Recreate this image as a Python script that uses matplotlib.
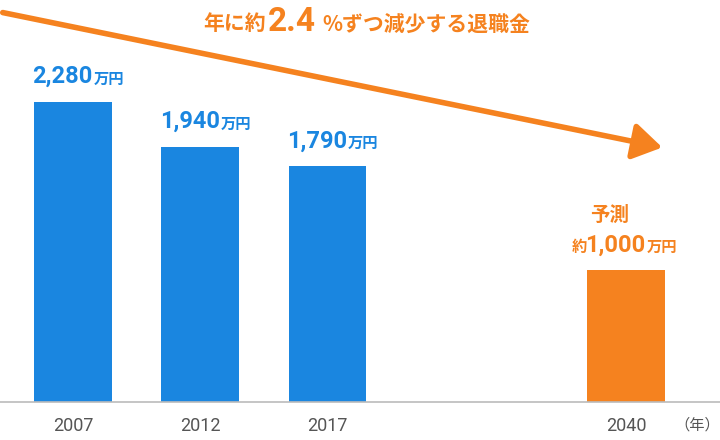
import matplotlib
matplotlib.use("Agg")
import matplotlib.pyplot as plt

plt.rcParams['font.family'] = ['Noto Sans CJK JP', 'DejaVu Sans']
NUM = ['Roboto', 'DejaVu Sans']

years = ["2007", "2012", "2017", "2040"]
values = [2280, 1940, 1790, 1000]
labels = ["2,280", "1,940", "1,790", "1,000"]
positions = [0, 1, 2, 4.35]
colors = ["#1a86e0", "#1a86e0", "#1a86e0", "#f5821f"]

fig = plt.figure(figsize=(7.2, 4.4), dpi=100)
ax = fig.add_axes([0, 38/440, 1, 1 - 38/440])
ax.set_xlim(-0.575, 5.09)
ax.set_ylim(0, 3055)
ax.axis("off")

ax.bar(positions, values, width=0.61, color=colors)

for p, v, lab, c in zip(positions, values, labels, colors):
    ax.annotate(lab, (p, v), xytext=(14, 10), textcoords="offset points",
                ha="right", va="bottom", fontsize=17, fontweight="bold", color=c, family=NUM)
    ax.annotate("万円", (p, v), xytext=(15, 11), textcoords="offset points",
                ha="left", va="bottom", fontsize=11, fontweight="bold", color=c)
ax.annotate("約", (positions[3], values[3]), xytext=(-28, 11), textcoords="offset points",
            ha="right", va="bottom", fontsize=11, fontweight="bold", color=colors[3])
ax.annotate("予測", (positions[3], values[3]), xytext=(-12, 33), textcoords="offset points",
            ha="center", va="bottom", fontsize=14, fontweight="bold", color=colors[3])

fig.add_artist(plt.Line2D([0, 1], [38/440, 38/440], color="#bbbbbb", lw=1.2))
for p, y in zip(positions, years):
    ax.annotate(y, (p, 0), xytext=(0, -17), textcoords="offset points",
                ha="center", va="center", fontsize=13, color="#555555", family=NUM)
fig.text(697/720, 1 - 425/440, "（年）", ha="center", va="center", fontsize=11, color="#555555")

fig.add_artist(matplotlib.patches.FancyArrowPatch((0, 1 - 12/440), (665/720, 1 - 148/440),
               transform=fig.transFigure, arrowstyle="-|>,head_length=8,head_width=5",
               color="#f5821f", lw=4, mutation_scale=2.2))
orange = "#f5821f"
fig.text(266/720, 1 - 24/440, "年に約", ha="right", va="center", fontsize=15, fontweight="bold", color=orange)
fig.text(268/720, 1 - 22/440, "2.4", ha="left", va="center", fontsize=24, fontweight="bold", color=orange, family=NUM)
fig.text(322/720, 1 - 24/440, "%ずつ減少する退職金", ha="left", va="center", fontsize=15, fontweight="bold", color=orange)

fig.savefig("out.png", dpi=100)
